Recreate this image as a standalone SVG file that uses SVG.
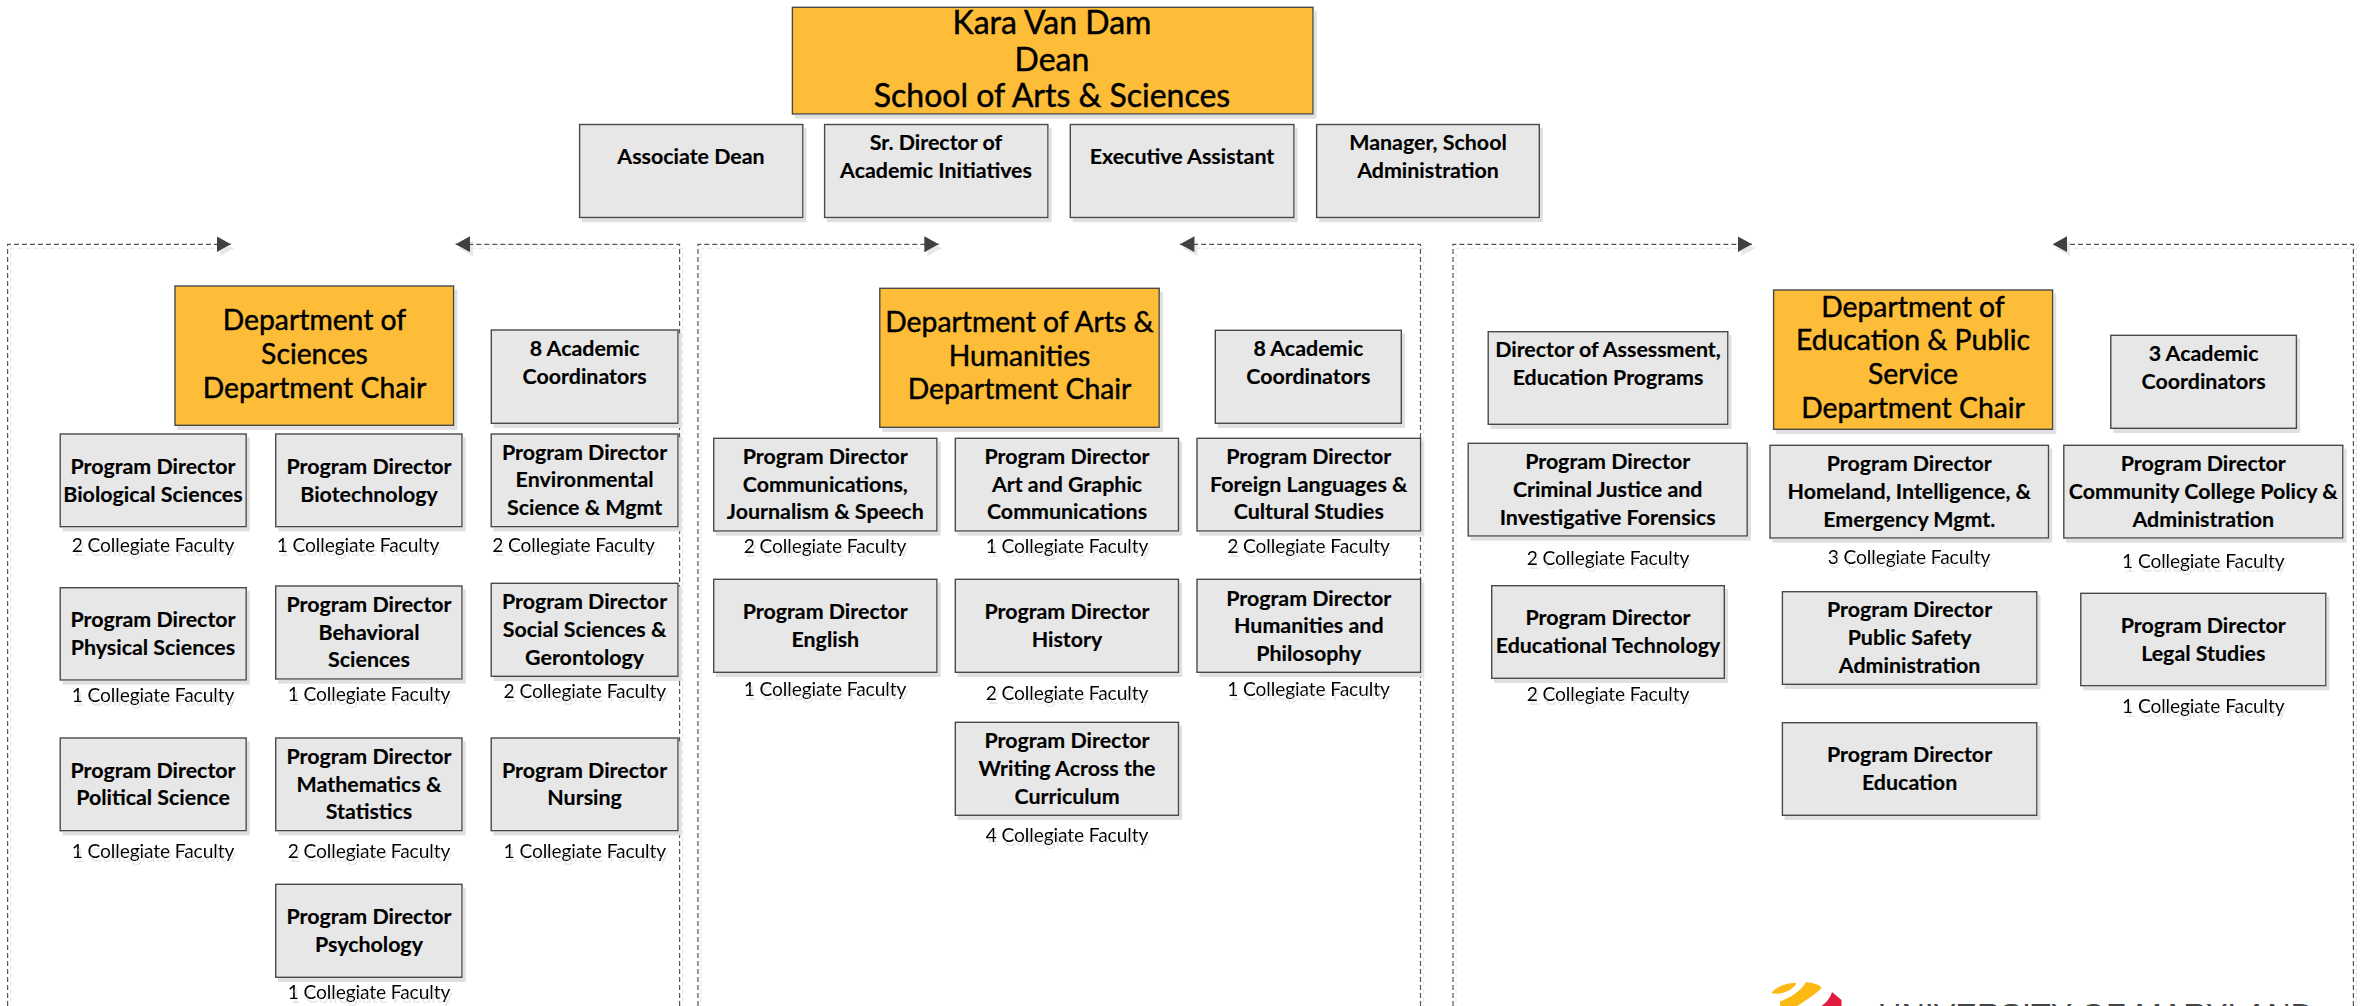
<svg xmlns="http://www.w3.org/2000/svg" width="2361" height="1006" viewBox="0 0 2361 1006">
<style>
text{font-family:Lato,"Open Sans",sans-serif;text-anchor:middle;fill:#000}
.o,.g{stroke:#4a4a4a;stroke-width:1.4;filter:url(#sh)}
.o{fill:#fdbd39}
.g{fill:#e7e7e7}
.t{font-size:21.4px;font-weight:700;stroke:#000;stroke-width:.15}
.h{font-size:28.3px;font-weight:400;stroke:#000;stroke-width:.45}
.hd{font-size:32px;font-weight:400;stroke:#000;stroke-width:.45}
.f{font-size:19.2px;letter-spacing:-.12px;filter:url(#ts)}
.d{fill:none;stroke:#555;stroke-width:1.2;stroke-dasharray:5 3;marker-end:url(#a);filter:url(#ls)}
.lg{font-family:"Liberation Sans",sans-serif;font-size:30px;fill:#444;text-anchor:start}
</style>
<defs>
<filter id="sh" x="-5%" y="-5%" width="112%" height="115%"><feDropShadow dx="3" dy="4" stdDeviation="0.6" flood-color="#e0e0e0"/></filter>
<filter id="ts" x="-5%" y="-20%" width="110%" height="150%"><feDropShadow dx="2" dy="4" stdDeviation="0.4" flood-color="#e6e6e6"/></filter>
<filter id="ls" filterUnits="userSpaceOnUse" x="0" y="200" width="2361" height="806"><feDropShadow dx="3" dy="4" stdDeviation="0.6" flood-color="#e8e8e8"/></filter>
<marker id="a" markerUnits="userSpaceOnUse" markerWidth="15" markerHeight="16" refX="14.5" refY="8" orient="auto"><path d="M0 0L14.5 8L0 16Z" fill="#404040"/></marker>
</defs>
<g id="connectors">
<path class="d" d="M7.6 1006V244.3H231"/>
<path class="d" d="M679.6 1006V244.3H455.6"/>
<path class="d" d="M698 1006V244.3H938.8"/>
<path class="d" d="M1420.5 1006V244.3H1180"/>
<path class="d" d="M1453 1006V244.3H1752"/>
<path class="d" d="M2353.4 1006V244.3H2052.6"/>
</g>
<g id="dean"><rect class="o" x="792.4" y="7.3" width="520.6" height="106.7"/><text class="hd" x="1052" y="33.5">Kara Van Dam</text><text class="hd" x="1052" y="70.500">Dean</text><text class="hd" x="1052" y="107">School of Arts &amp; Sciences</text></g>
<g id="associate-dean"><rect class="g" x="579.6" y="124.5" width="223.2" height="93"/><text class="t" x="691" y="164">Associate Dean</text></g>
<g id="sr-director"><rect class="g" x="824.6" y="124.5" width="223.3" height="93"/><text class="t" x="936" y="150">Sr. Director of</text><text class="t" x="936" y="178">Academic Initiatives</text></g>
<g id="exec-assistant"><rect class="g" x="1070.3" y="124.5" width="223.6" height="93"/><text class="t" x="1182" y="164">Executive Assistant</text></g>
<g id="manager"><rect class="g" x="1316.6" y="124.5" width="222.7" height="93"/><text class="t" x="1428" y="150">Manager, School</text><text class="t" x="1428" y="178">Administration</text></g>

<g id="sci-chair"><rect class="o" x="175" y="286" width="278.6" height="139.3"/><text class="h" x="314.5" y="330">Department of</text><text class="h" x="314.5" y="363.5">Sciences</text><text class="h" x="314.5" y="397.7">Department Chair</text></g>
<g id="sci-coord"><rect class="g" x="491.3" y="330" width="186.7" height="93.3"/><text class="t" x="584.6" y="356.2">8 Academic</text><text class="t" x="584.6" y="383.8">Coordinators</text></g>
<g id="pd-bio"><rect class="g" x="60.2" y="434" width="186" height="92.7"/><text class="t" x="153" y="474">Program Director</text><text class="t" x="153" y="501.500">Biological Sciences</text><text class="f" x="153" y="552">2 Collegiate Faculty</text></g>
<g id="pd-biotech"><rect class="g" x="275.7" y="434" width="186.3" height="92.7"/><text class="t" x="369" y="474">Program Director</text><text class="t" x="369" y="501.500">Biotechnology</text><text class="f" x="358" y="552">1 Collegiate Faculty</text></g>
<g id="pd-env"><rect class="g" x="491.2" y="434" width="186.8" height="92.7"/><text class="t" x="584.6" y="460">Program Director</text><text class="t" x="584.6" y="487">Environmental</text><text class="t" x="584.6" y="515">Science &amp; Mgmt</text><text class="f" x="573.5" y="552">2 Collegiate Faculty</text></g>
<g id="pd-phys"><rect class="g" x="60.2" y="587.7" width="186" height="92.3"/><text class="t" x="153" y="627">Program Director</text><text class="t" x="153" y="655">Physical Sciences</text><text class="f" x="153" y="702.3">1 Collegiate Faculty</text></g>
<g id="pd-behav"><rect class="g" x="275.7" y="586" width="186.3" height="93"/><text class="t" x="369" y="611.7">Program Director</text><text class="t" x="369" y="639.7">Behavioral</text><text class="t" x="369" y="666.7">Sciences</text><text class="f" x="369" y="701">1 Collegiate Faculty</text></g>
<g id="pd-social"><rect class="g" x="491.2" y="583.3" width="186.8" height="93"/><text class="t" x="584.6" y="609">Program Director</text><text class="t" x="584.6" y="636.7">Social Sciences &amp;</text><text class="t" x="584.6" y="665">Gerontology</text><text class="f" x="584.8" y="698">2 Collegiate Faculty</text></g>
<g id="pd-poli"><rect class="g" x="60.2" y="738" width="186" height="92.7"/><text class="t" x="153" y="777.7">Program Director</text><text class="t" x="153" y="804.7">Political Science</text><text class="f" x="153" y="858.3">1 Collegiate Faculty</text></g>
<g id="pd-math"><rect class="g" x="275.7" y="738" width="186.3" height="92.7"/><text class="t" x="369" y="764">Program Director</text><text class="t" x="369" y="791.7">Mathematics &amp;</text><text class="t" x="369" y="818.7">Statistics</text><text class="f" x="369" y="858.3">2 Collegiate Faculty</text></g>
<g id="pd-nursing"><rect class="g" x="491.2" y="738" width="186.8" height="92.7"/><text class="t" x="584.6" y="777.7">Program Director</text><text class="t" x="584.6" y="804.7">Nursing</text><text class="f" x="584.8" y="858.3">1 Collegiate Faculty</text></g>
<g id="pd-psych"><rect class="g" x="275.7" y="884.3" width="186.3" height="93"/><text class="t" x="369" y="924">Program Director</text><text class="t" x="369" y="951.7">Psychology</text><text class="f" x="369" y="999">1 Collegiate Faculty</text></g>

<g id="arts-chair"><rect class="o" x="879.8" y="288.3" width="279.4" height="139"/><text class="h" x="1019.5" y="331.7">Department of Arts &amp;</text><text class="h" x="1019.5" y="365.7">Humanities</text><text class="h" x="1019.5" y="399.3">Department Chair</text></g>
<g id="arts-coord"><rect class="g" x="1215.3" y="330.3" width="186" height="93"/><text class="t" x="1308.3" y="356">8 Academic</text><text class="t" x="1308.3" y="384">Coordinators</text></g>
<g id="pd-comm"><rect class="g" x="713.7" y="438.3" width="223.2" height="92.7"/><text class="t" x="825.3" y="464">Program Director</text><text class="t" x="825.3" y="492">Communications,</text><text class="t" x="825.3" y="518.7">Journalism &amp; Speech</text><text class="f" x="825" y="553.3">2 Collegiate Faculty</text></g>
<g id="pd-art"><rect class="g" x="955.3" y="438.3" width="223.2" height="92.7"/><text class="t" x="1067" y="464">Program Director</text><text class="t" x="1067" y="492">Art and Graphic</text><text class="t" x="1067" y="518.7">Communications</text><text class="f" x="1067" y="553.3">1 Collegiate Faculty</text></g>
<g id="pd-lang"><rect class="g" x="1197" y="438.3" width="223.6" height="92.7"/><text class="t" x="1308.8" y="464">Program Director</text><text class="t" x="1308.8" y="492">Foreign Languages &amp;</text><text class="t" x="1308.8" y="518.7">Cultural Studies</text><text class="f" x="1308.5" y="553.3">2 Collegiate Faculty</text></g>
<g id="pd-eng"><rect class="g" x="713.7" y="579.3" width="223.2" height="93"/><text class="t" x="825.3" y="619">Program Director</text><text class="t" x="825.3" y="647">English</text><text class="f" x="825" y="696">1 Collegiate Faculty</text></g>
<g id="pd-hist"><rect class="g" x="955.3" y="579.3" width="223.2" height="93"/><text class="t" x="1067" y="619">Program Director</text><text class="t" x="1067" y="647">History</text><text class="f" x="1067" y="700">2 Collegiate Faculty</text></g>
<g id="pd-human"><rect class="g" x="1197" y="579.3" width="223.6" height="93"/><text class="t" x="1308.8" y="605.7">Program Director</text><text class="t" x="1308.8" y="632.7">Humanities and</text><text class="t" x="1308.8" y="660.7">Philosophy</text><text class="f" x="1308.5" y="696">1 Collegiate Faculty</text></g>
<g id="pd-writing"><rect class="g" x="955.3" y="722.3" width="223.2" height="93"/><text class="t" x="1067" y="747.7">Program Director</text><text class="t" x="1067" y="775.7">Writing Across the</text><text class="t" x="1067" y="803.7">Curriculum</text><text class="f" x="1067" y="842.3">4 Collegiate Faculty</text></g>

<g id="dir-assess"><rect class="g" x="1488.2" y="331.7" width="239.6" height="92.6"/><text class="t" x="1608" y="356.7">Director of Assessment,</text><text class="t" x="1608" y="384.7">Education Programs</text></g>
<g id="edu-chair"><rect class="o" x="1773.6" y="290" width="279" height="139.3"/><text class="h" x="1913" y="316.500">Department of</text><text class="h" x="1913" y="350">Education &amp; Public</text><text class="h" x="1913" y="384">Service</text><text class="h" x="1913" y="417.8">Department Chair</text></g>
<g id="edu-coord"><rect class="g" x="2110.8" y="335.3" width="185.6" height="93"/><text class="t" x="2203.6" y="360.7">3 Academic</text><text class="t" x="2203.6" y="388.7">Coordinators</text></g>
<g id="pd-crim"><rect class="g" x="1468.2" y="443.3" width="279" height="92.7"/><text class="t" x="1607.7" y="468.7">Program Director</text><text class="t" x="1607.7" y="496.7">Criminal Justice and</text><text class="t" x="1607.7" y="525">Investigative Forensics</text><text class="f" x="1608" y="565">2 Collegiate Faculty</text></g>
<g id="pd-home"><rect class="g" x="1770" y="445.3" width="278.5" height="92.7"/><text class="t" x="1909.3" y="471">Program Director</text><text class="t" x="1909.3" y="499">Homeland, Intelligence, &amp;</text><text class="t" x="1909.3" y="527">Emergency Mgmt.</text><text class="f" x="1909" y="564">3 Collegiate Faculty</text></g>
<g id="pd-cc"><rect class="g" x="2063.8" y="445.3" width="279" height="92.7"/><text class="t" x="2203.3" y="471">Program Director</text><text class="t" x="2203.3" y="499">Community College Policy &amp;</text><text class="t" x="2203.3" y="527">Administration</text><text class="f" x="2203.3" y="568.3">1 Collegiate Faculty</text></g>
<g id="pd-edtech"><rect class="g" x="1491.7" y="585.7" width="232.6" height="92.6"/><text class="t" x="1608" y="625">Program Director</text><text class="t" x="1608" y="653">Educational Technology</text><text class="f" x="1608" y="701">2 Collegiate Faculty</text></g>
<g id="pd-safety"><rect class="g" x="1782.4" y="591.7" width="254.4" height="92.6"/><text class="t" x="1909.6" y="617">Program Director</text><text class="t" x="1909.6" y="645">Public Safety</text><text class="t" x="1909.6" y="673">Administration</text></g>
<g id="pd-legal"><rect class="g" x="2080.8" y="593.3" width="245" height="92.4"/><text class="t" x="2203.3" y="633">Program Director</text><text class="t" x="2203.3" y="661">Legal Studies</text><text class="f" x="2203.3" y="712.7">1 Collegiate Faculty</text></g>
<g id="pd-edu"><rect class="g" x="1782.4" y="722.7" width="254.4" height="92.6"/><text class="t" x="1909.6" y="762">Program Director</text><text class="t" x="1909.6" y="790">Education</text></g>

<g id="logo">
<path d="M1771.5 993C1776 987 1786 982.5 1796.5 983C1795 988 1783 996 1771.5 993Z" fill="#fdb913"/>
<path d="M1806 982C1813 983 1820 984.500 1821.500 988C1816 994 1806 1000 1797.500 1006H1780V1001.500C1790 998 1802 990 1806 982Z" fill="#fdb913"/>
<path d="M1832 992L1841.500 1000V1006H1821.500C1827 1002 1830 998 1832 992Z" fill="#e11b3c"/>
<text class="lg" x="1878" y="1024" textLength="436" lengthAdjust="spacingAndGlyphs">UNIVERSITY OF MARYLAND</text>
</g>
</svg>
